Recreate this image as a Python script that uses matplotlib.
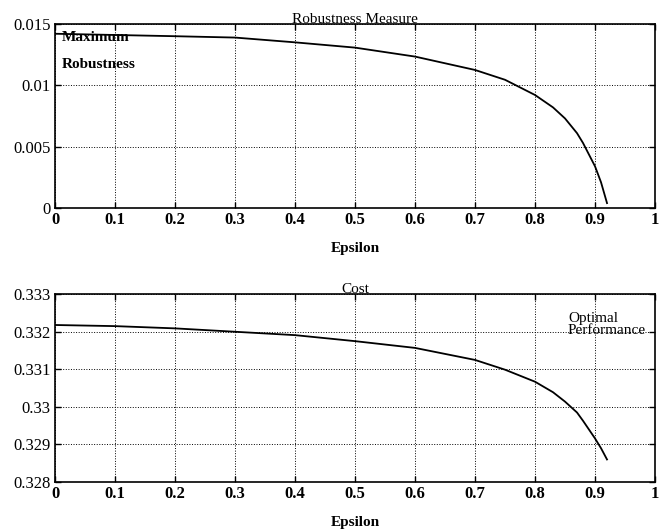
import matplotlib.pyplot as plt

# values
epsilon = [0.0, 0.1, 0.2, 0.3, 0.4, 0.5, 0.6, 0.7, 0.75, 0.8, 0.83, 0.85,
           0.87, 0.88, 0.9, 0.91, 0.92]
robustness = [0.0142, 0.0141, 0.0140, 0.01389, 0.0135, 0.01307, 0.01234, 0.01125,
              0.01045, 0.00921, 0.0082, 0.0073, 0.0061, 0.0053, 0.0034, 0.0021, 0.0004]
cost = [0.33218, 0.33215, 0.33209, 0.33200, 0.33191, 0.33175, 0.33157, 0.33125,
        0.33099, 0.33067, 0.33039, 0.33014, 0.32985, 0.32963, 0.32916, 0.32890, 0.32860]

xticks = [0, 0.1, 0.2, 0.3, 0.4, 0.5, 0.6, 0.7, 0.8, 0.9, 1]
xticklabels = ["0", "0.1", "0.2", "0.3", "0.4", "0.5", "0.6", "0.7", "0.8", "0.9", "1"]
rob_ticks = [0, 0.005, 0.01, 0.015]
rob_labels = ["0", "0.005", "0.01", "0.015"]
cost_ticks = [0.328, 0.329, 0.33, 0.331, 0.332, 0.333]
cost_labels = ["0.328", "0.329", "0.33", "0.331", "0.332", "0.333"]

plt.rcParams['font.family'] = ['Liberation Serif', 'DejaVu Serif']

fig = plt.figure(figsize=(6.66, 5.32), dpi=100)
ax1 = fig.add_axes([0.0826, 0.609, 0.9009, 0.346])
ax2 = fig.add_axes([0.0826, 0.094, 0.9009, 0.353])


def style(ax, yticks, ylabels, ylim):
    ax.set_xlim(0, 1)
    ax.set_ylim(*ylim)
    ax.set_xticks(xticks)
    ax.set_xticklabels(xticklabels, fontsize=12, fontweight='bold')
    ax.set_yticks(yticks)
    ax.set_yticklabels(ylabels, fontsize=12)
    ax.tick_params(direction='in', length=4, top=True, right=True, width=1, pad=3)
    ax.grid(True, color='black', linestyle=':', linewidth=0.7)
    for s in ax.spines.values():
        s.set_linewidth(1.2)
    ax.set_xlabel("Epsilon", fontsize=11, fontweight='bold', labelpad=10)


ax1.plot(epsilon, robustness, color='black', linewidth=1.3)
style(ax1, rob_ticks, rob_labels, (0, 0.015))
ax1.set_title("Robustness Measure", fontsize=11, pad=1)
ax1.text(0.012, 0.0136, "Maximum", fontsize=11, fontweight='bold')
ax1.text(0.012, 0.0114, "Robustness", fontsize=11, fontweight='bold')

ax2.plot(epsilon, cost, color='black', linewidth=1.3)
style(ax2, cost_ticks, cost_labels, (0.328, 0.333))
ax2.set_title("Cost", fontsize=11, pad=1)
ax2.text(0.855, 0.33225, "Optimal", fontsize=11)
ax2.text(0.855, 0.33193, "Performance", fontsize=11)

fig.savefig("out.png", dpi=100)
